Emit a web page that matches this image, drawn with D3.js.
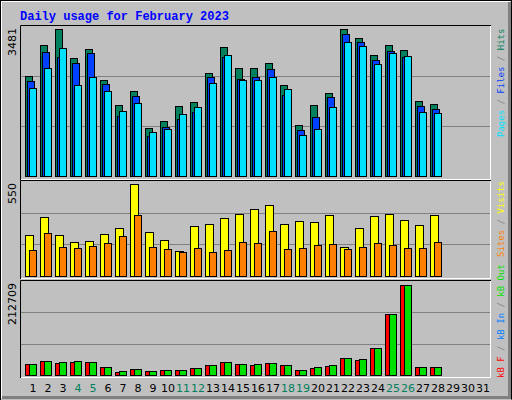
<!DOCTYPE html>
<html><head><meta charset="utf-8">
<script src="https://cdn.jsdelivr.net/npm/d3@7"></script>
<style>body{margin:0;background:#fff}svg{display:block}</style>
</head><body>
<script>
const days = d3.range(1, 32);
const weekends = [4,5,11,12,18,19,25,26];
const hits  = [2313,3032,3404,2730,2939,2220,1640,1965,1106,1269,1616,1709,2383,2986,2498,2498,2614,2104,1176,1640,1919,3404,3195,2800,3032,2916,1733,1663];
const files = [2204,2877,2768,2614,2854,2127,1392,1849,928,1137,1322,1485,2290,2768,2251,2290,2476,1872,1060,1369,1825,3288,3102,2684,2893,2753,1616,1547];
const pages = [2041,2499,2962,2104,2290,1965,1501,1686,1014,1083,1431,1601,2151,2800,2220,2220,2290,2011,944,1083,1601,3102,3009,2591,2847,2777,1477,1454];
const visits = [235,340,235,195,201,241,276,531,253,207,143,288,299,334,357,386,409,299,317,311,351,166,276,345,357,322,293,351];
const sites  = [149,247,166,160,172,189,230,351,166,154,137,160,137,149,195,189,259,154,160,178,183,154,166,189,178,160,160,195];
const kbF   = [24618,32078,26856,29094,29094,17904,6714,14174,9698,11936,11936,15666,22380,29094,24618,22380,26856,22380,11936,15666,20142,38046,33570,60426,138756,203658,17904,17904];
const kbOut = [24618,32078,29094,32078,29094,17904,9698,14174,9698,11936,11936,15666,22380,29094,24618,24618,26856,22380,11936,17904,22380,38046,35808,60426,138756,203658,17904,17904];
const maxTop = 3481, maxMid = 550, maxBot = 212709;

const W = 512, H = 400;
const svg = d3.select("body").append("svg").attr("width", W).attr("height", H);
svg.append("rect").attr("width", W).attr("height", H).attr("fill", "#C0C0C0");
// bevel
svg.append("path").attr("d","M0,0H511V399").attr("fill","none").attr("stroke","#000").attr("stroke-width",1).attr("transform","translate(0.5,0.5)");
svg.append("path").attr("d","M1.5,398.5V1.5H510.5").attr("fill","none").attr("stroke","#fff");
svg.append("path").attr("d","M2,397.5H509.5V2").attr("fill","none").attr("stroke","#808080").attr("stroke-width",3);
svg.append("line").attr("x1",0.5).attr("x2",0.5).attr("y1",0).attr("y2",400).attr("stroke","#000");
svg.append("line").attr("x1",0).attr("x2",512).attr("y1",0.5).attr("y2",0.5).attr("stroke","#000");

svg.append("text").attr("x", 20).attr("y", 20).attr("font-family","Liberation Mono, monospace")
  .attr("font-weight","bold").attr("font-size",12).attr("fill","#0000FF").text("Daily usage for February 2023");

const x = d3.scaleLinear().domain([1, 32]).range([25, 25 + 15*31]);
const panels = [
  {top:25, bottom:180, base:176, max:maxTop, label:String(maxTop)},
  {top:180, bottom:279, base:276, max:maxMid, label:String(maxMid)},
  {top:280, bottom:378, base:375, max:maxBot, label:String(maxBot)}
];
const L = 20, R = 491;
panels.forEach(p => {
  const yTop = p.top + 1 + (p.top===25?0:0);
  p.y = d3.scaleLinear().domain([0, p.max]).range([p.base, p.base - (p.base - (p.top + 1)) ]);
  svg.append("rect").attr("x", L+0.5).attr("y", p.top+0.5).attr("width", R-L-1).attr("height", p.bottom-p.top-1)
    .attr("fill","#C0C0C0").attr("stroke","none");
  svg.append("path").attr("d",`M${L+0.5},${p.bottom}V${p.top+0.5}H${R}`).attr("fill","none").attr("stroke","#000");
  svg.append("path").attr("d",`M${L+1},${p.bottom-0.5}H${R-0.5}V${p.top+1}`).attr("fill","none").attr("stroke","#fff");
  [1/3, 2/3].forEach(f => {
    const gy = Math.round(p.y(p.max*f)) + 0.5;
    svg.append("line").attr("x1", L+1).attr("x2", R-1).attr("y1", gy).attr("y2", gy).attr("stroke","#808080");
  });
  svg.append("text").attr("transform",`translate(16,${p.top+3}) rotate(-90)`).attr("text-anchor","end")
    .attr("font-family","DejaVu Sans, sans-serif").attr("font-size",11).attr("fill","#000").text(p.label);
});

function bars(data, p, off, w, color) {
  svg.append("g").selectAll("rect").data(data).join("rect")
    .attr("x", (d,i) => Math.round(x(i+1)) + off + 0.5)
    .attr("y", d => Math.round(p.y(d)) + 0.5)
    .attr("width", w)
    .attr("height", d => Math.max(0, p.base - Math.round(p.y(d))))
    .attr("fill", color).attr("stroke","#000");
}
bars(hits, panels[0], 0, 7, "#00805C");
bars(files, panels[0], 2, 7, "#0040FF");
bars(pages, panels[0], 4, 7, "#00E0FF");
bars(visits, panels[1], 0, 8, "#FFFF00");
bars(sites, panels[1], 4, 7, "#FF8000");
bars(kbF, panels[2], 0, 8, "#FF0000");
bars(kbOut, panels[2], 4, 7, "#00E000");

svg.append("g").selectAll("text").data(days).join("text")
  .attr("x", d => x(d) + 8).attr("y", 392).attr("text-anchor","middle")
  .attr("font-family","DejaVu Sans, sans-serif").attr("font-size",11)
  .attr("fill", d => weekends.includes(d) ? "#00805C" : "#000").text(d => d);

function sideLabel(y0, parts) {
  const t = svg.append("text").attr("transform",`translate(504,${y0}) rotate(-90)`)
    .attr("font-family","DejaVu Sans Mono, monospace").attr("font-size",9);
  parts.forEach(([s,c]) => t.append("tspan").attr("fill", c).text(s));
}
sideLabel(137, [["Pages","#00E0FF"],[" / ","#808080"],["Files","#0040FF"],[" / ","#808080"],["Hits","#00805C"]]);
sideLabel(257, [["Sites","#FF8000"],[" / ","#808080"],["Visits","#FFFF00"]]);
sideLabel(378, [["kB F","#FF0000"],[" / ","#808080"],["kB In","#0080FF"],[" / ","#808080"],["kB Out","#00E000"]]);
</script>
</body></html>
